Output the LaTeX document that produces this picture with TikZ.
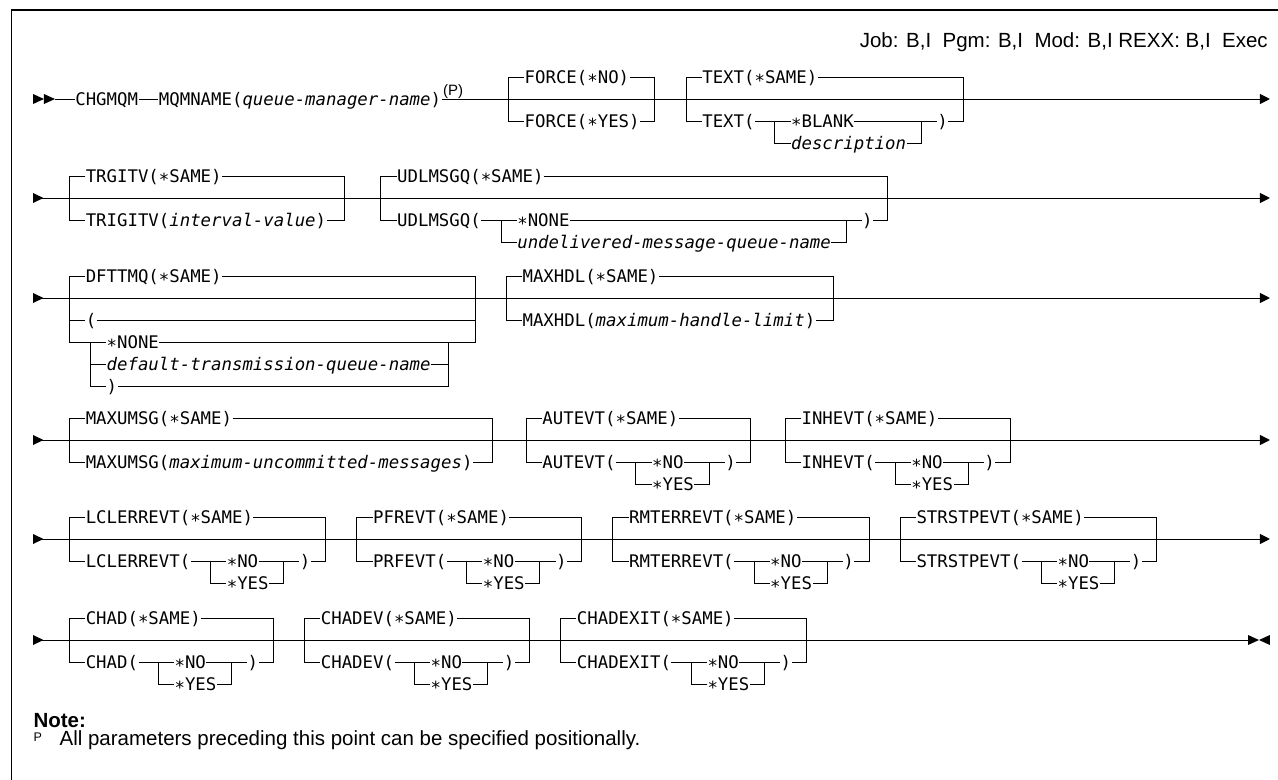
\documentclass[tikz,border=0pt]{standalone}
\usepackage{fontspec}
\setmainfont{Liberation Sans}
\newfontfamily\synfont{DejaVu Sans Mono}[ItalicFont={DejaVu Sans Mono Oblique}]
\usetikzlibrary{arrows.meta}

\begin{document}
\begin{tikzpicture}[x=10.45pt, y=-1pt, line width=1pt,
  kw/.style={anchor=west, inner sep=0pt, text height=14pt, text depth=1.34pt,
    font=\fontsize{17.36pt}{20pt}\synfont},
  sans/.style={anchor=base west, inner sep=0pt, font=\fontsize{20.5pt}{24pt}\selectfont},
  endtip/.style={-{Triangle[length=10pt,width=10pt]}}]
  \useasboundingbox (-3.158,0) rectangle (119.14,780);

  % Frame and header
  \draw[line width=1.5pt] (-2.07,780) -- (-2.07,10) -- (119.14,10);
  \node[sans, anchor=base east] (header) at (118.2,47) {Job: B,I\ \ Pgm: B,I\ \ Mod: B,I REXX: B,I\ \ Exec};

  % Row 1
  \coordinate (r1s) at (2.1,99);
  \coordinate (r1e) at (118.37,99);
  \fill (0,94) -- (1.05,99) -- (0,104) -- cycle;
  \fill (1.05,94) -- (2.1,99) -- (1.05,104) -- cycle;
  \node[kw] (chgmqm) at (4,99) {CHGMQM};
  \node[kw] (mqmname) at (12,99) {MQMNAME(\textit{queue-manager-name})};
  \node[sans, font=\fontsize{15pt}{17pt}\selectfont] (pmark1) at (39.2,95) {(P)};
  \draw (r1s) -- (chgmqm.west);
  \draw (chgmqm.east) -- (mqmname.west);
  \draw[endtip] (mqmname.east) -- (r1e);

  \node[kw] (force1) at (47,77) {FORCE(∗NO)};
  \node[kw] (force2) at (47,121) {FORCE(∗YES)};
  \draw (force1.west) -| (45.5,121) -- (force2.west);
  \draw (force1.east) -| (59.5,121) -- (force2.east);

  \node[kw] (text1) at (64,77) {TEXT(∗SAME)};
  \node[kw] (text2) at (64,121) {TEXT(};
  \node[kw] (textblank) at (72.5,121) {∗BLANK};
  \node[kw] (textdescr) at (72.5,143) {\textit{description}};
  \node[kw] (textcl) at (86.5,121) {)};
  \draw (text1.west) -| (62.5,121) -- (text2.west);
  \draw (text1.east) -| (89,121) -- (textcl.east);
  \draw (text2.east) -- (textblank.west);
  \draw (textblank.east) -- (textcl.west);
  \draw (71,121) |- (textdescr.west);
  \draw (85,121) |- (textdescr.east);

  % Row 2
  \coordinate (r2s) at (0,198);
  \coordinate (r2e) at (118.37,198);
  \fill (0,193) -- (1,198) -- (0,203) -- cycle;
  \draw[endtip] (r2s) -- (r2e);

  \node[kw] (trgitv1) at (5,176) {TRGITV(∗SAME)};
  \node[kw] (trgitv2) at (5,220) {TRIGITV(\textit{interval-value})};
  \draw (trgitv1.west) -| (3.5,220) -- (trgitv2.west);
  \draw (trgitv1.east) -| (29.8,220) -- (trgitv2.east);

  \node[kw] (udlmsgq1) at (34.8,176) {UDLMSGQ(∗SAME)};
  \node[kw] (udlmsgq2) at (34.8,220) {UDLMSGQ(};
  \node[kw] (udlnone) at (46.3,220) {∗NONE};
  \node[kw] (udlname) at (46.3,242) {\textit{undelivered-message-queue-name}};
  \node[kw] (udlcl) at (79.3,220) {)};
  \draw (udlmsgq1.west) -| (33.3,220) -- (udlmsgq2.west);
  \draw (udlmsgq1.east) -| (81.8,220) -- (udlcl.east);
  \draw (udlmsgq2.east) -- (udlnone.west);
  \draw (udlnone.east) -- (udlcl.west);
  \draw (44.8,220) |- (udlname.west);
  \draw (77.8,220) |- (udlname.east);

  % Row 3
  \coordinate (r3s) at (0,298);
  \coordinate (r3e) at (118.37,298);
  \fill (0,293) -- (1,298) -- (0,303) -- cycle;
  \draw[endtip] (r3s) -- (r3e);

  \node[kw] (dfttmq1) at (5,276) {DFTTMQ(∗SAME)};
  \node[kw] (dftopen) at (5,320) {(};
  \node[kw] (dftnone) at (7,342) {∗NONE};
  \node[kw] (dftname) at (7,364) {\textit{default-transmission-queue-name}};
  \node[kw] (dftcl) at (7,386) {)};
  \draw (dfttmq1.west) -| (3.5,342) -- (dftnone.west);
  \draw (dfttmq1.east) -| (42.3,342) -- (dftnone.east);
  \draw (3.5,320) -- (dftopen.west);
  \draw (dftopen.east) -- (42.3,320);
  \draw (5.5,342) |- (dftcl.west);
  \draw (5.5,364) -- (dftname.west);
  \draw (39.8,342) |- (dftcl.east);
  \draw (dftname.east) -- (39.8,364);

  \node[kw] (maxhdl1) at (46.8,276) {MAXHDL(∗SAME)};
  \node[kw] (maxhdl2) at (46.8,320) {MAXHDL(\textit{maximum-handle-limit})};
  \draw (maxhdl1.west) -| (45.3,320) -- (maxhdl2.west);
  \draw (maxhdl1.east) -| (76.6,320) -- (maxhdl2.east);

  % Row 4
  \coordinate (r4s) at (0,440);
  \coordinate (r4e) at (118.37,440);
  \fill (0,435) -- (1,440) -- (0,445) -- cycle;
  \draw[endtip] (r4s) -- (r4e);

  \node[kw] (maxumsg1) at (5,418) {MAXUMSG(∗SAME)};
  \node[kw] (maxumsg2) at (5,462) {MAXUMSG(\textit{maximum-uncommitted-messages})};
  \draw (maxumsg1.west) -| (3.5,462) -- (maxumsg2.west);
  \draw (maxumsg1.east) -| (44,462) -- (maxumsg2.east);

  \node[kw] (autevt1) at (48.7,418) {AUTEVT(∗SAME)};
  \node[kw] (autevt2) at (48.7,462) {AUTEVT(};
  \node[kw] (autno) at (59.2,462) {∗NO};
  \node[kw] (autyes) at (59.2,484) {∗YES};
  \node[kw] (autcl) at (66.2,462) {)};
  \draw (autevt1.west) -| (47.2,462) -- (autevt2.west);
  \draw (autevt1.east) -| (68.7,462) -- (autcl.east);
  \draw (autevt2.east) -- (autno.west);
  \draw (autno.east) -- (autcl.west);
  \draw (57.7,462) |- (autyes.west);
  \draw (64.7,462) |- (autyes.east);

  \node[kw] (inhevt1) at (73.5,418) {INHEVT(∗SAME)};
  \node[kw] (inhevt2) at (73.5,462) {INHEVT(};
  \node[kw] (inhno) at (84,462) {∗NO};
  \node[kw] (inhyes) at (84,484) {∗YES};
  \node[kw] (inhcl) at (91,462) {)};
  \draw (inhevt1.west) -| (72,462) -- (inhevt2.west);
  \draw (inhevt1.east) -| (93.5,462) -- (inhcl.east);
  \draw (inhevt2.east) -- (inhno.west);
  \draw (inhno.east) -- (inhcl.west);
  \draw (82.5,462) |- (inhyes.west);
  \draw (89.5,462) |- (inhyes.east);

  % Row 5
  \coordinate (r5s) at (0,539);
  \coordinate (r5e) at (118.37,539);
  \fill (0,534) -- (1,539) -- (0,544) -- cycle;
  \draw[endtip] (r5s) -- (r5e);

  \node[kw] (lclerr1) at (5,517) {LCLERREVT(∗SAME)};
  \node[kw] (lclerr2) at (5,561) {LCLERREVT(};
  \node[kw] (lclno) at (18.5,561) {∗NO};
  \node[kw] (lclyes) at (18.5,583) {∗YES};
  \node[kw] (lclcl) at (25.5,561) {)};
  \draw (lclerr1.west) -| (3.5,561) -- (lclerr2.west);
  \draw (lclerr1.east) -| (28,561) -- (lclcl.east);
  \draw (lclerr2.east) -- (lclno.west);
  \draw (lclno.east) -- (lclcl.west);
  \draw (17,561) |- (lclyes.west);
  \draw (24,561) |- (lclyes.east);

  \node[kw] (pfrevt1) at (32.5,517) {PFREVT(∗SAME)};
  \node[kw] (pfrevt2) at (32.5,561) {PRFEVT(};
  \node[kw] (pfrno) at (43,561) {∗NO};
  \node[kw] (pfryes) at (43,583) {∗YES};
  \node[kw] (pfrcl) at (50,561) {)};
  \draw (pfrevt1.west) -| (31,561) -- (pfrevt2.west);
  \draw (pfrevt1.east) -| (52.5,561) -- (pfrcl.east);
  \draw (pfrevt2.east) -- (pfrno.west);
  \draw (pfrno.east) -- (pfrcl.west);
  \draw (41.5,561) |- (pfryes.west);
  \draw (48.5,561) |- (pfryes.east);

  \node[kw] (rmterr1) at (57,517) {RMTERREVT(∗SAME)};
  \node[kw] (rmterr2) at (57,561) {RMTERREVT(};
  \node[kw] (rmtno) at (70.5,561) {∗NO};
  \node[kw] (rmtyes) at (70.5,583) {∗YES};
  \node[kw] (rmtcl) at (77.5,561) {)};
  \draw (rmterr1.west) -| (55.5,561) -- (rmterr2.west);
  \draw (rmterr1.east) -| (80,561) -- (rmtcl.east);
  \draw (rmterr2.east) -- (rmtno.west);
  \draw (rmtno.east) -- (rmtcl.west);
  \draw (69,561) |- (rmtyes.west);
  \draw (76,561) |- (rmtyes.east);

  \node[kw] (strstp1) at (84.5,517) {STRSTPEVT(∗SAME)};
  \node[kw] (strstp2) at (84.5,561) {STRSTPEVT(};
  \node[kw] (strno) at (98,561) {∗NO};
  \node[kw] (stryes) at (98,583) {∗YES};
  \node[kw] (strcl) at (105,561) {)};
  \draw (strstp1.west) -| (83,561) -- (strstp2.west);
  \draw (strstp1.east) -| (107.5,561) -- (strcl.east);
  \draw (strstp2.east) -- (strno.west);
  \draw (strno.east) -- (strcl.west);
  \draw (96.5,561) |- (stryes.west);
  \draw (103.5,561) |- (stryes.east);

  % Row 6
  \coordinate (r6s) at (0,640);
  \coordinate (r6e) at (116.27,640);
  \fill (0,635) -- (1,640) -- (0,645) -- cycle;
  \draw (r6s) -- (r6e);
  \fill (116.27,635) -- (117.32,640) -- (116.27,645) -- cycle;
  \fill (118.37,635) -- (117.32,640) -- (118.37,645) -- cycle;

  \node[kw] (chad1) at (5,618) {CHAD(∗SAME)};
  \node[kw] (chad2) at (5,662) {CHAD(};
  \node[kw] (chadno) at (13.5,662) {∗NO};
  \node[kw] (chadyes) at (13.5,684) {∗YES};
  \node[kw] (chadcl) at (20.5,662) {)};
  \draw (chad1.west) -| (3.5,662) -- (chad2.west);
  \draw (chad1.east) -| (23,662) -- (chadcl.east);
  \draw (chad2.east) -- (chadno.west);
  \draw (chadno.east) -- (chadcl.west);
  \draw (12,662) |- (chadyes.west);
  \draw (19,662) |- (chadyes.east);

  \node[kw] (chadev1) at (27.5,618) {CHADEV(∗SAME)};
  \node[kw] (chadev2) at (27.5,662) {CHADEV(};
  \node[kw] (chadevno) at (38,662) {∗NO};
  \node[kw] (chadevyes) at (38,684) {∗YES};
  \node[kw] (chadevcl) at (45,662) {)};
  \draw (chadev1.west) -| (26,662) -- (chadev2.west);
  \draw (chadev1.east) -| (47.5,662) -- (chadevcl.east);
  \draw (chadev2.east) -- (chadevno.west);
  \draw (chadevno.east) -- (chadevcl.west);
  \draw (36.5,662) |- (chadevyes.west);
  \draw (43.5,662) |- (chadevyes.east);

  \node[kw] (chadex1) at (52,618) {CHADEXIT(∗SAME)};
  \node[kw] (chadex2) at (52,662) {CHADEXIT(};
  \node[kw] (chadexno) at (64.5,662) {∗NO};
  \node[kw] (chadexyes) at (64.5,684) {∗YES};
  \node[kw] (chadexcl) at (71.5,662) {)};
  \draw (chadex1.west) -| (50.5,662) -- (chadex2.west);
  \draw (chadex1.east) -| (74,662) -- (chadexcl.east);
  \draw (chadex2.east) -- (chadexno.west);
  \draw (chadexno.east) -- (chadexcl.west);
  \draw (63,662) |- (chadexyes.west);
  \draw (70,662) |- (chadexyes.east);

  % Note
  \node[sans, font=\bfseries\fontsize{20.5pt}{24pt}\selectfont] (note) at (0,727) {Note:};
  \node[sans, font=\fontsize{12.5pt}{15pt}\selectfont] (pmark2) at (0,741) {P};
  \node[sans] (notetext) at (2.5,745) {All parameters preceding this point can be specified positionally.};
\end{tikzpicture}
\end{document}
